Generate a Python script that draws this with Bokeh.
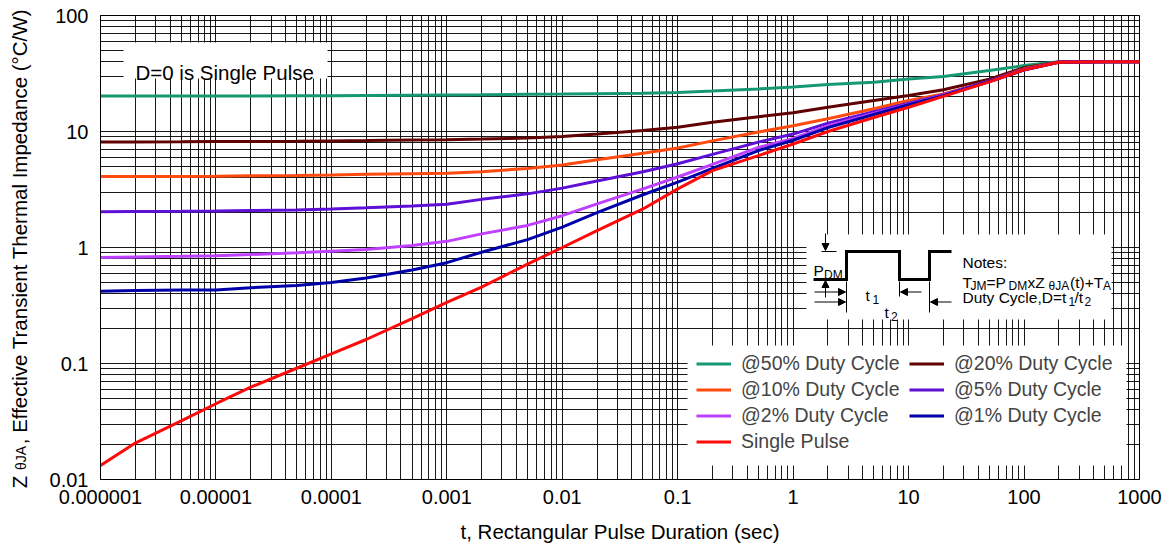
import math
from bokeh.plotting import figure
from bokeh.layouts import row
from bokeh.models import (FixedTicker, Label, Legend, LegendItem, BoxAnnotation,
                          Arrow, NormalHead, Range1d)
from bokeh.embed import file_html
from bokeh.resources import INLINE

# ---------------- data ----------------
t_sec = [1e-6, 2e-6, 5e-6, 1e-5, 2e-5, 5e-5, 1e-4, 2e-4, 5e-4, 1e-3, 2e-3, 5e-3,
         1e-2, 2e-2, 5e-2, 0.1, 0.2, 0.5, 1, 2, 5, 10, 20, 50, 100, 200, 500, 1000]

z_50 = [20.2, 20.2, 20.2, 20.2, 20.2, 20.3, 20.3, 20.4, 20.5, 20.6, 20.7, 20.9,
        21.0, 21.2, 21.4, 21.7, 22.3, 23.3, 24.2, 25.4, 26.6, 28.3, 29.8, 33.5, 37.0, 40.0, 40.0, 40.0]
z_20 = [8.1, 8.1, 8.15, 8.2, 8.2, 8.25, 8.3, 8.35, 8.45, 8.5, 8.6, 8.8,
        9.05, 9.5, 10.2, 10.9, 12.0, 13.4, 14.5, 16.2, 18.5, 20.4, 22.9, 28.3, 35.5, 39.8, 40.0, 40.0]
z_10 = [4.1, 4.1, 4.1, 4.12, 4.15, 4.18, 4.22, 4.27, 4.32, 4.36, 4.5, 4.8,
        5.15, 5.7, 6.5, 7.2, 8.3, 9.9, 11.2, 12.9, 15.7, 18.5, 21.1, 27.2, 34.7, 39.8, 40.0, 40.0]
z_5 = [2.03, 2.04, 2.05, 2.06, 2.08, 2.11, 2.15, 2.2, 2.28, 2.36, 2.6, 2.9,
       3.25, 3.75, 4.5, 5.27, 6.35, 8.1, 9.5, 11.8, 14.8, 17.5, 20.8, 27.3, 34.3, 39.7, 40.0, 40.0]
z_2 = [0.82, 0.83, 0.84, 0.85, 0.87, 0.9, 0.93, 0.96, 1.04, 1.13, 1.31, 1.55,
       1.88, 2.38, 3.2, 4.05, 5.2, 7.3, 8.7, 11.2, 14.3, 17.2, 20.6, 27.0, 34.0, 39.6, 40.0, 40.0]
z_1 = [0.42, 0.425, 0.43, 0.43, 0.45, 0.47, 0.5, 0.545, 0.64, 0.74, 0.91, 1.17,
       1.5, 2.0, 2.85, 3.66, 4.8, 6.85, 8.4, 10.8, 14.0, 17.0, 20.4, 27.0, 33.8, 39.5, 40.0, 40.0]
z_single = [0.0132, 0.0206, 0.032, 0.045, 0.0625, 0.091, 0.121, 0.161, 0.244, 0.337, 0.455, 0.72,
            1.0, 1.40, 2.15, 3.2, 4.6, 6.2, 7.8, 10.0, 13.2, 16.2, 20.1, 26.8, 34.0, 39.6, 40.0, 40.0]

series_names = ["@50% Duty Cycle", "@20% Duty Cycle", "@10% Duty Cycle", "@5% Duty Cycle",
                "@2% Duty Cycle", "@1% Duty Cycle", "Single Pulse"]
series_values = [z_50, z_20, z_10, z_5, z_2, z_1, z_single]
series_colors = ["#169873", "#600000", "#FF4B0F", "#5E10D6", "#BF40FF", "#0000A8", "#FF0A0A"]

x_ticks = [1e-6, 1e-5, 1e-4, 1e-3, 1e-2, 1e-1, 1.0, 10.0, 100.0, 1000.0]
x_tick_labels = ["0.000001", "0.00001", "0.0001", "0.001", "0.01", "0.1", "1", "10", "100", "1000"]
y_ticks = [0.01, 0.1, 1.0, 10.0, 100.0]
y_tick_labels = ["0.01", "0.1", "1", "10", "100"]

x_label = "t, Rectangular Pulse Duration (sec)"
y_label_main = "Z"
y_label_sub = "\u03b8JA"
y_label_rest = ", Effective Transient Thermal Impedance (\u00b0C/W)"
note_text = "D=0 is Single Pulse"

# ---------------- layout ----------------
FONT = "Liberation Sans"
TOTAL_W, H = 1162, 548
STRIP_W = 40                 # narrow strip holding the y-axis title
FL, FT, FW, FH = 100, 15, 1039, 464   # frame position on the page
X_MIN, X_MAX, Y_MIN, Y_MAX = 1e-6, 1e3, 0.01, 100.0


def dx(px):
    return 10 ** (math.log10(X_MIN) + (px - FL) / FW * math.log10(X_MAX / X_MIN))


def dy(py):
    return 10 ** (math.log10(Y_MAX) - (py - FT) / FH * math.log10(Y_MAX / Y_MIN))


x_minor = [m * d for d in x_ticks[:-1] for m in range(2, 10)]
y_minor = [m * d for d in y_ticks[:-1] for m in range(2, 10)]

main_w = TOTAL_W - STRIP_W
p = figure(width=main_w, height=H, x_axis_type="log", y_axis_type="log",
           x_range=Range1d(X_MIN, X_MAX), y_range=Range1d(Y_MIN, Y_MAX),
           output_backend="svg", toolbar_location=None,
           min_border_left=FL - STRIP_W, min_border_top=FT,
           min_border_right=TOTAL_W - FL - FW, min_border_bottom=H - FT - FH)
p.frame_align = False
p.background_fill_color = "white"
p.border_fill_color = "white"
p.outline_line_color = "black"
p.outline_line_width = 1

p.xaxis.ticker = FixedTicker(ticks=x_ticks, minor_ticks=x_minor)
p.yaxis.ticker = FixedTicker(ticks=y_ticks, minor_ticks=y_minor)
p.xaxis.major_label_overrides = dict(zip(x_ticks, x_tick_labels))
p.yaxis.major_label_overrides = dict(zip(y_ticks, y_tick_labels))

for ax in (p.xaxis[0], p.yaxis[0]):
    ax.major_tick_in = 0
    ax.major_tick_out = 0
    ax.minor_tick_in = 0
    ax.minor_tick_out = 0
    ax.major_tick_line_color = None
    ax.minor_tick_line_color = None
    ax.axis_line_color = "black"
    ax.major_label_text_font = FONT
    ax.major_label_text_font_size = "20px"
    ax.major_label_text_color = "black"
p.xaxis.major_label_standoff = 10
p.yaxis.major_label_standoff = 12
p.xaxis.axis_label = x_label
p.xaxis.axis_label_text_font = FONT
p.xaxis.axis_label_text_font_size = "20.5px"
p.xaxis.axis_label_text_font_style = "normal"
p.xaxis.axis_label_text_color = "black"
p.xaxis.axis_label_standoff = 13

for g in (p.xgrid[0], p.ygrid[0]):
    g.grid_line_color = "black"
    g.grid_line_alpha = 0.9
    g.grid_line_width = 1
    g.minor_grid_line_color = "black"
    g.minor_grid_line_alpha = 0.9
    g.minor_grid_line_width = 1

# white boxes (over the grid, under the curves)
for l, r, t, b in [(123, 327, 42, 78), (806, 1111, 234, 319), (687, 1126, 345, 465)]:
    p.add_layout(BoxAnnotation(left=dx(l), right=dx(r), top=dy(t), bottom=dy(b),
                               fill_color="white", fill_alpha=1, line_color=None,
                               level="underlay"))

# curves
rends = {}
for name, vals, col in zip(series_names, series_values, series_colors):
    rends[name] = p.line(t_sec, vals, line_color=col, line_width=3)

legend_order = ["@50% Duty Cycle", "@10% Duty Cycle", "@2% Duty Cycle", "Single Pulse",
                "@20% Duty Cycle", "@5% Duty Cycle", "@1% Duty Cycle"]
legend = Legend(items=[LegendItem(label=n, renderers=[rends[n]]) for n in legend_order],
                ncols=2, location=(596, 26), padding=10, spacing=3, margin=0,
                glyph_width=35, glyph_height=23, label_height=23, label_width=165,
                label_standoff=10, label_text_font=FONT, label_text_font_size="19.5px",
                background_fill_color="white", background_fill_alpha=1, border_line_color=None)
p.add_layout(legend)

# "D=0 is Single Pulse"
p.add_layout(Label(x=dx(135), y=dy(72), text=note_text, text_font=FONT, text_font_size="20.5px",
                   text_baseline="alphabetic", text_align="left", text_color="black"))

# ---------------- inset pulse diagram ----------------
wave_px = [(813, 279), (846, 279), (846, 251), (899, 251), (899, 279), (929, 279), (929, 251), (951, 251)]
p.line([dx(a) for a, b in wave_px], [dy(b) for a, b in wave_px], line_color="black",
       line_width=3, line_join="miter")
seg_px = [(821, 251, 836, 251), (846, 281, 846, 312), (899, 281, 899, 296), (929, 281, 929, 312)]
p.segment(x0=[dx(s[0]) for s in seg_px], y0=[dy(s[1]) for s in seg_px],
          x1=[dx(s[2]) for s in seg_px], y1=[dy(s[3]) for s in seg_px],
          line_color="black", line_width=1)
arrow_px = [(825, 233, 825, 250), (825, 297, 825, 280), (814, 291.5, 845, 291.5),
            (921, 291.5, 900, 291.5), (814, 301.5, 845, 301.5), (951, 301.5, 930, 301.5)]
for a in arrow_px:
    p.add_layout(Arrow(end=NormalHead(size=7, fill_color="black", line_color="black", line_width=1),
                       x_start=dx(a[0]), y_start=dy(a[1]), x_end=dx(a[2]), y_end=dy(a[3]),
                       line_color="black", line_width=1))

inset_texts = [
    ("P", 813, 270, "15.5px"), ("DM", 823.5, 274, "12px"),
    ("t", 865, 295, "15.5px"), ("1", 872, 298.5, "12px"),
    ("t", 884, 312, "15.5px"), ("2", 890.5, 315.5, "12px"),
    ("Notes:", 962, 262, "15.5px"),
    ("T", 962, 282, "15.5px"), ("JM", 970, 285.5, "12px"), ("=P", 986, 282, "15.5px"),
    ("DM", 1008, 285.5, "12px"), ("xZ", 1027, 282, "15.5px"), ("\u03b8JA", 1048, 285.5, "12px"),
    ("(t)+T", 1069.5, 282, "15.5px"), ("A", 1102.5, 285.5, "12px"),
    ("Duty Cycle,D=t", 962, 297, "15.5px"), ("1", 1068, 300.5, "12px"),
    ("/t", 1074, 297, "15.5px"), ("2", 1084, 300.5, "12px"),
]
for txt, px, py, fs in inset_texts:
    p.add_layout(Label(x=dx(px), y=dy(py), text=txt, text_font=FONT, text_font_size=fs,
                       text_baseline="alphabetic", text_align="left", text_color="black"))

# ---------------- strip with the y-axis title (subscripted) ----------------
s = figure(width=STRIP_W, height=H, x_range=Range1d(0, STRIP_W), y_range=Range1d(0, H),
           output_backend="svg", toolbar_location=None,
           x_axis_location=None, y_axis_location=None,
           min_border_left=0, min_border_right=0, min_border_top=0, min_border_bottom=0)
s.frame_align = False
s.outline_line_color = None
s.background_fill_color = "white"
s.border_fill_color = "white"
s.xgrid.visible = False
s.ygrid.visible = False
# each piece is anchored at its centre (page pixels, measured from the top)
for txt, cx, cy, fs in [(y_label_main, 18.5, 481.5, "20.5px"),
                        (y_label_sub, 20.5, 457.5, "14px"),
                        (y_label_rest, 18.5, 226.0, "20.5px")]:
    s.add_layout(Label(x=cx, y=H - cy, text=txt, angle=math.pi / 2, text_font=FONT,
                       text_font_size=fs, text_baseline="middle", text_align="center",
                       text_color="black"))

layout = row(s, p)
open("out.html", "w").write(file_html(layout, INLINE))
